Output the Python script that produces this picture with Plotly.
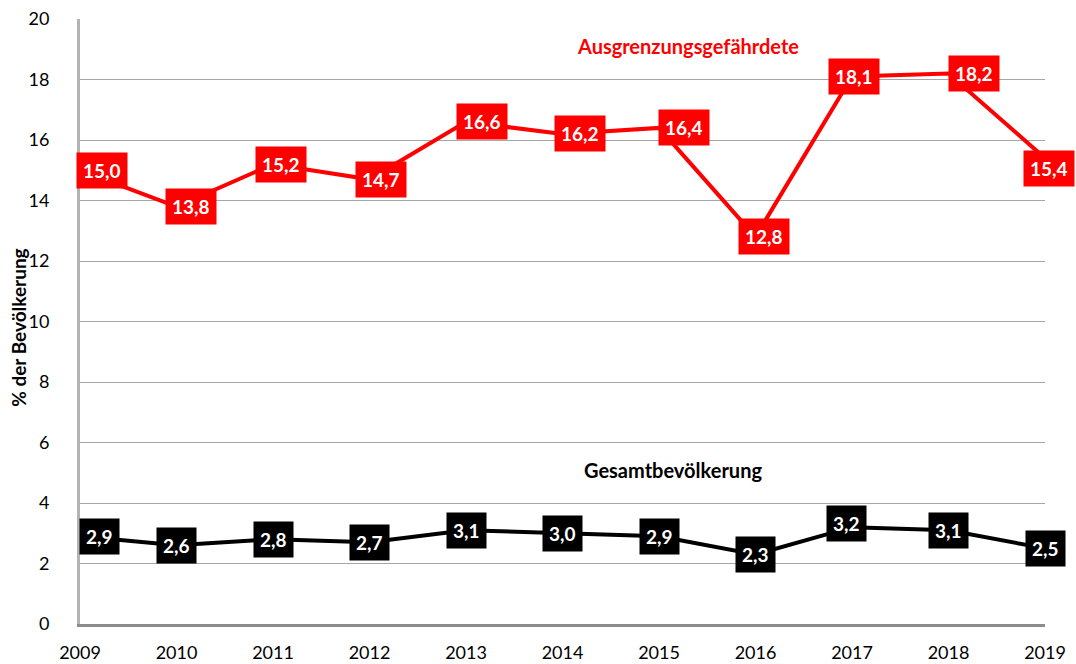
import plotly.graph_objects as go

years = [2009, 2010, 2011, 2012, 2013, 2014, 2015, 2016, 2017, 2018, 2019]
ausgrenzung = [15.0, 13.8, 15.2, 14.7, 16.6, 16.2, 16.4, 12.8, 18.1, 18.2, 15.4]
gesamt = [2.9, 2.6, 2.8, 2.7, 3.1, 3.0, 2.9, 2.3, 3.2, 3.1, 2.5]
y_ticks = [0, 2, 4, 6, 8, 10, 12, 14, 16, 18, 20]
series_names = ["Ausgrenzungsgefährdete", "Gesamtbevölkerung"]
y_title = "% der Bevölkerung"

# label offsets (pixels) relative to the data points
red_dx = [22, 14, 8, 11, 16, 17, 25, 8, 2, 25, 4]
red_dy = [0, 0, 0, 0, 0, 0, 0, 0, 0, 0, -10]
blk_dx = [19, 0, 0, 0, 0, 0, 0, 0, -6, 0, 0]
blk_dy = [0, 0, 0, 0, 0, 0, 0, 0, 4, 0, 0]

FONT = "Lato, sans-serif"
RED = "#ff0000"
BLACK = "#000000"


def fmt(v):
    return f"{v:.1f}".replace(".", ",")


fig = go.Figure()
fig.add_trace(go.Scatter(x=years, y=ausgrenzung, mode="lines", name=series_names[0],
                         line=dict(color=RED, width=4), cliponaxis=False))
fig.add_trace(go.Scatter(x=years, y=gesamt, mode="lines", name=series_names[1],
                         line=dict(color=BLACK, width=4), cliponaxis=False))

annotations = []
for x, v, dx, dy in zip(years, ausgrenzung, red_dx, red_dy):
    annotations.append(dict(x=x, y=v, xref="x", yref="y", text=fmt(v), showarrow=False,
                            bgcolor=RED, borderpad=6, xshift=dx, yshift=dy,
                            font=dict(family=FONT, size=19, color="white", weight="bold")))
for x, v, dx, dy in zip(years, gesamt, blk_dx, blk_dy):
    annotations.append(dict(x=x, y=v, xref="x", yref="y", text=fmt(v), showarrow=False,
                            bgcolor=BLACK, borderpad=6, xshift=dx, yshift=dy,
                            font=dict(family=FONT, size=19, color="white", weight="bold")))

# series name labels
annotations.append(dict(x=2015.3, y=19.1, xref="x", yref="y", text=series_names[0], showarrow=False,
                        font=dict(family=FONT, size=20, color=RED, weight="bold")))
annotations.append(dict(x=2015.15, y=5.1, xref="x", yref="y", text=series_names[1], showarrow=False,
                        font=dict(family=FONT, size=20, color=BLACK, weight="bold")))

# y axis title as paper annotation
annotations.append(dict(x=-0.064, y=0.49, xref="paper", yref="paper", text=y_title, showarrow=False,
                        textangle=-90, xanchor="center", yanchor="middle",
                        font=dict(family=FONT, size=19, color=BLACK, weight="bold")))

fig.update_layout(
    width=1076, height=664,
    margin=dict(l=80, r=31, t=19, b=40, autoexpand=False),
    paper_bgcolor="white", plot_bgcolor="white",
    showlegend=False,
    font=dict(family=FONT, size=18, color="black"),
    annotations=annotations,
    xaxis=dict(range=[2009, 2019], tickvals=years, ticktext=[str(y) for y in years],
               showgrid=False, zeroline=False, showline=True, linecolor="#8c8c8c", linewidth=3,
               ticks="outside", ticklen=10, tickcolor="rgba(0,0,0,0)", automargin=False,
               tickfont=dict(family=FONT, size=18, color="black")),
    yaxis=dict(range=[0, 20], tickvals=y_ticks, ticktext=[str(t) for t in y_ticks],
               showgrid=True, gridcolor="#a6a6a6", gridwidth=1, zeroline=False,
               showline=True, linecolor="#b3b3b3", linewidth=3, automargin=False,
               ticks="outside", ticklen=24, tickcolor="rgba(0,0,0,0)",
               tickfont=dict(family=FONT, size=18, color="black")),
)

fig.write_html("out.html", config={"displayModeBar": False},
               post_script="document.body.style.margin='0';document.body.style.padding='0';")
